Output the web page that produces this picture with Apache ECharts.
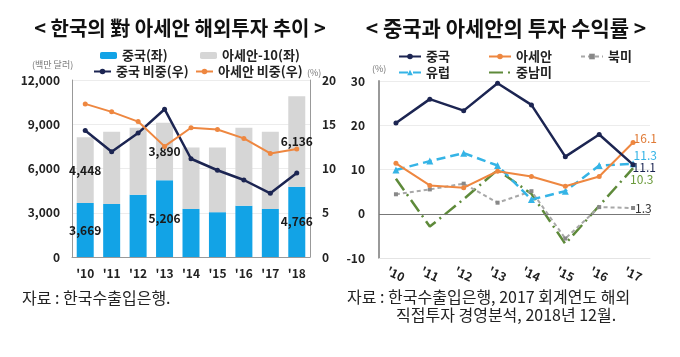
<!DOCTYPE html>
<html><head><meta charset="utf-8">
<script src="https://cdn.jsdelivr.net/npm/echarts@6/dist/echarts.min.js"></script>
<style>html,body{margin:0;padding:0;background:#fff}#c{width:680px;height:357px}</style>
</head><body><div id="c"></div>
<script>
const yearsL = ["'10","'11","'12","'13","'14","'15","'16","'17","'18"];
const chinaInv = [3669,3593,4212,5206,3261,3040,3482,3261,4766];
const aseanInv = [4448,4902,4550,3890,4166,4387,5280,5234,6136];
const chinaShare = [14.3,11.9,14.0,16.7,11.1,9.8,8.7,7.2,9.5];
const aseanShare = [17.3,16.4,15.3,12.5,14.6,14.4,13.4,11.7,12.2];
const labeledIdx = [0,3,8];

const yearsR = ["'10","'11","'12","'13","'14","'15","'16","'17"];
const rChina = [20.5,25.9,23.3,29.5,24.6,12.9,17.9,11.1];
const rAsean = [11.4,6.4,5.9,9.6,8.4,6.2,8.4,16.1];
const rNA = [4.4,5.5,6.8,2.5,5.1,-5.6,1.5,1.3];
const rEU = [9.9,11.9,13.7,10.9,3.2,5.1,10.9,11.3];
const rLA = [7.9,-2.9,3.3,9.9,4.5,-6.8,1.8,10.3];

const F = 'Noto Sans CJK KR';
const C_BLUE = '#12a3e6', C_GRAY = '#d6d6d6', C_NAVY = '#1c2552', C_ORANGE = '#ee8740';
const C_EU = '#35b4e6', C_NA = '#a8a8a8', C_LA = '#5e8a3a';

const fmt = v => v.toLocaleString('en-US');
const chart = echarts.init(document.getElementById('c'));

const legTxt = {fontFamily: F, fontSize: 13, fontWeight: 'bold', color: '#222'};
function leg(name, left, top, w, h, extra) {
  return Object.assign({data: [name], left: left, top: top, itemWidth: w, itemHeight: h, itemGap: 0,
    padding: 0, textStyle: legTxt, selectedMode: false}, extra || {});
}
const lastLabel = (color, offset, pos) => ({
  show: true, position: pos || 'right', distance: 0, offset: offset,
  fontFamily: F, fontWeight: 'normal', fontSize: 12, color: color,
  formatter: p => p.dataIndex === 7 ? String(p.value) : ''
});
const srcStyle = t => ({text: t, fontFamily: F, fontWeight: 'normal', fontSize: 16, fill: '#222'});

chart.setOption({
  animation: false,
  textStyle: {fontFamily: F},
  title: [
    {text: '< 한국의 對 아세안 해외투자 추이 >', left: 175, top: 13, textAlign: 'center',
      textStyle: {fontFamily: F, fontSize: 20, fontWeight: 'bold', color: '#111'}},
    {text: '< 중국과 아세안의 투자 수익률 >', left: 501, top: 13, textAlign: 'center',
      textStyle: {fontFamily: F, fontSize: 21, fontWeight: 'bold', color: '#111'}}
  ],
  legend: [
    leg('중국(좌)', 100, 49, 17, 7),
    leg('아세안-10(좌)', 200, 49, 17, 7),
    leg('중국 비중(우)', 93, 65, 17, 7),
    leg('아세안 비중(우)', 195, 65, 17, 7),
    leg('중국', 398, 50, 22, 7),
    leg('아세안', 488, 50, 22, 7),
    leg('북미', 580, 50, 22, 7),
    leg('유럽', 398, 66, 22, 7),
    leg('중남미', 488, 66, 22, 7, {itemStyle: {color: 'rgba(0,0,0,0)', borderWidth: 0}})
  ],
  graphic: [
    {type: 'text', left: 32, top: 60, style: {text: '(백만 달러)', fontFamily: F, fontSize: 9, fill: '#777'}},
    {type: 'text', left: 307, top: 68, style: {text: '(%)', fontFamily: F, fontSize: 9, fill: '#777'}},
    {type: 'text', left: 372, top: 64, style: {text: '(%)', fontFamily: F, fontSize: 9, fill: '#777'}},
    {type: 'text', left: 22, top: 290, style: srcStyle('자료 : 한국수출입은행.')},
    {type: 'text', left: 347, top: 289, style: srcStyle('자료 : 한국수출입은행, 2017 회계연도 해외')},
    {type: 'text', left: 396, top: 307, style: srcStyle('직접투자 경영분석, 2018년 12월.')}
  ],
  grid: [
    {left: 72, right: 370, top: 80, bottom: 100},
    {left: 379, right: 30, top: 81, bottom: 99}
  ],
  xAxis: [
    {type: 'category', gridIndex: 0, data: yearsL,
      axisLine: {lineStyle: {color: '#999'}}, axisTick: {show: false},
      axisLabel: {fontFamily: F, fontSize: 12, fontWeight: 'bold', color: '#222', margin: 10}},
    {type: 'category', gridIndex: 1, data: yearsR,
      axisLine: {onZero: false, lineStyle: {color: '#e4e4e4'}}, axisTick: {show: false},
      axisLabel: {fontFamily: F, fontSize: 12, fontWeight: 'bold', color: '#222', margin: 16, rotate: -25, align: 'center'}}
  ],
  yAxis: [
    {type: 'value', gridIndex: 0, min: 0, max: 12000, interval: 3000,
      axisLine: {show: true, lineStyle: {color: '#999'}}, axisTick: {show: false},
      splitLine: {lineStyle: {color: '#ececec'}},
      axisLabel: {fontFamily: F, fontSize: 12, fontWeight: 'bold', color: '#222', margin: 12, formatter: v => fmt(v)}},
    {type: 'value', gridIndex: 0, min: 0, max: 20, interval: 5, position: 'right',
      axisLine: {show: true, lineStyle: {color: '#999'}}, axisTick: {show: false},
      splitLine: {show: false},
      axisLabel: {fontFamily: F, fontSize: 12, fontWeight: 'bold', color: '#222', margin: 12}},
    {type: 'value', gridIndex: 1, min: -10, max: 30, interval: 10,
      axisLine: {show: true, lineStyle: {color: '#999', width: 2}}, axisTick: {show: false},
      splitLine: {lineStyle: {color: '#ececec'}},
      axisLabel: {fontFamily: F, fontSize: 12, fontWeight: 'bold', color: '#222', margin: 14}}
  ],
  series: [
    {name: '중국(좌)', type: 'bar', xAxisIndex: 0, yAxisIndex: 0, stack: 'inv', barWidth: 17,
      data: chinaInv, itemStyle: {color: C_BLUE},
      label: {show: true, position: 'inside', fontFamily: F, fontSize: 12, fontWeight: 'bold', color: '#1a1a1a',
        formatter: p => labeledIdx.includes(p.dataIndex) ? fmt(p.value) : ''}},
    {name: '아세안-10(좌)', type: 'bar', xAxisIndex: 0, yAxisIndex: 0, stack: 'inv', barWidth: 17,
      data: aseanInv, itemStyle: {color: C_GRAY},
      label: {show: true, position: 'inside', fontFamily: F, fontSize: 12, fontWeight: 'bold', color: '#1a1a1a',
        formatter: p => labeledIdx.includes(p.dataIndex) ? fmt(p.value) : ''}},
    {name: '중국 비중(우)', type: 'line', xAxisIndex: 0, yAxisIndex: 1, data: chinaShare,
      symbol: 'circle', symbolSize: 5, itemStyle: {color: C_NAVY}, lineStyle: {color: C_NAVY, width: 2.5}},
    {name: '아세안 비중(우)', type: 'line', xAxisIndex: 0, yAxisIndex: 1, data: aseanShare,
      symbol: 'circle', symbolSize: 5, itemStyle: {color: C_ORANGE}, lineStyle: {color: C_ORANGE, width: 2}},

    {name: '중국', type: 'line', xAxisIndex: 1, yAxisIndex: 2, data: rChina, z: 5,
      symbol: 'circle', symbolSize: 5, itemStyle: {color: C_NAVY}, lineStyle: {color: C_NAVY, width: 2.5},
      label: lastLabel(C_NAVY, [-3, 3]),
      markLine: {silent: true, symbol: 'none', label: {show: false},
        lineStyle: {color: '#777', width: 1, type: 'solid'}, data: [{yAxis: 0}]}},
    {name: '아세안', type: 'line', xAxisIndex: 1, yAxisIndex: 2, data: rAsean, z: 4,
      symbol: 'circle', symbolSize: 5, itemStyle: {color: C_ORANGE}, lineStyle: {color: C_ORANGE, width: 2},
      label: lastLabel('#e07a35', [-2, -4])},
    {name: '북미', type: 'line', xAxisIndex: 1, yAxisIndex: 2, data: rNA, z: 2,
      symbol: 'rect', symbolSize: 4, itemStyle: {color: '#888'}, lineStyle: {color: C_NA, width: 2, type: [4, 3]},
      label: lastLabel('#333', [0, 0])},
    {name: '유럽', type: 'line', xAxisIndex: 1, yAxisIndex: 2, data: rEU, z: 3,
      symbol: 'triangle', symbolSize: 7, itemStyle: {color: C_EU}, lineStyle: {color: C_EU, width: 2.5, type: [9, 5]},
      label: lastLabel(C_EU, [-3, -8])},
    {name: '중남미', type: 'line', xAxisIndex: 1, yAxisIndex: 2, data: rLA, z: 1,
      symbol: 'circle', symbolSize: 0, itemStyle: {color: C_LA}, lineStyle: {color: C_LA, width: 2.5, type: [14, 5, 2, 5]},
      label: lastLabel('#6a9a3a', [-3, 11])}
  ]
});
</script>
</body></html>
